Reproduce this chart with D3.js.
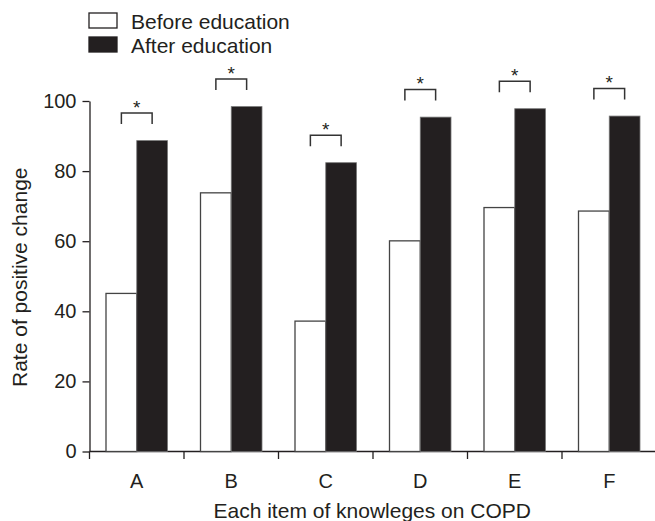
<!DOCTYPE html>
<html>
<head>
<meta charset="utf-8">
<script src="https://cdn.jsdelivr.net/npm/d3@7"></script>
<style>
  body { margin: 0; background: #fff; }
  text { font-family: "Liberation Sans", Arial, sans-serif; fill: #231f20; }
</style>
</head>
<body>
<div id="chart"></div>
<script>
// data
const items = ["A", "B", "C", "D", "E", "F"];
const before = [45.1, 73.8, 37.2, 60.1, 69.6, 68.6];
const after = [88.7, 98.4, 82.4, 95.4, 97.8, 95.7];
const yTicks = [0, 20, 40, 60, 80, 100];
const seriesNames = ["Before education", "After education"];

const W = 655, H = 521;
const ink = "#231f20";

const svg = d3.select("#chart")
  .append("svg")
    .attr("width", W)
    .attr("height", H);

const x = d3.scaleBand()
  .domain(items)
  .range([89.5, 656.5])
  .padding(0);

const x1 = d3.scaleBand()
  .domain(["before", "after"])
  .range([16.5, x.bandwidth() - 16.5])
  .padding(0);

const y = d3.scaleLinear()
  .domain([0, 100])
  .range([451.5, 101]);

// y axis
const yAxis = svg.append("g")
  .attr("transform", `translate(${x.range()[0]},0)`)
  .call(d3.axisLeft(y).tickValues(yTicks).tickSize(7).tickSizeOuter(0).tickPadding(6));
yAxis.selectAll("text")
  .style("font-size", "20px")
  .attr("fill", ink);
yAxis.selectAll("line, path").attr("stroke", ink).attr("stroke-width", 1.3);

// x axis: line, ticks on band edges, labels in band centres
const xAxis = svg.append("g")
  .attr("transform", `translate(0,${y(0)})`);
xAxis.append("line")
  .attr("x1", x.range()[0]).attr("x2", W)
  .attr("stroke", ink).attr("stroke-width", 1.3);
xAxis.selectAll(".edge")
  .data(items)
  .join("line")
    .attr("class", "edge")
    .attr("x1", d => x(d)).attr("x2", d => x(d))
    .attr("y1", 0).attr("y2", 7.5)
    .attr("stroke", ink).attr("stroke-width", 1.3);
xAxis.selectAll(".lab")
  .data(items)
  .join("text")
    .attr("class", "lab")
    .attr("x", d => x(d) + x.bandwidth() / 2)
    .attr("y", 36.5)
    .attr("text-anchor", "middle")
    .style("font-size", "20px")
    .text(d => d);

// bars
const groups = svg.append("g")
  .selectAll("g")
  .data(items.map((d, i) => ({ item: d, before: before[i], after: after[i] })))
  .join("g")
    .attr("transform", d => `translate(${x(d.item)},0)`);

groups.append("rect")
  .attr("x", x1("before"))
  .attr("y", d => y(d.before))
  .attr("width", x1.bandwidth())
  .attr("height", d => y(0) - y(d.before))
  .attr("fill", "#fff")
  .attr("stroke", "#444")
  .attr("stroke-width", 1.3);

groups.append("rect")
  .attr("x", x1("after"))
  .attr("y", d => y(d.after))
  .attr("width", x1.bandwidth())
  .attr("height", d => y(0) - y(d.after))
  .attr("fill", ink)
  .attr("stroke", "#777")
  .attr("stroke-width", 0.8);

// significance brackets
const bx0 = x1("before") + x1.bandwidth() / 2;
const bx1 = x1("after") + x1.bandwidth() / 2;
groups.append("path")
  .attr("d", d => {
    const top = y(d.after) - 27.5, bot = y(d.after) - 16.5;
    return `M${bx0},${bot}V${top}H${bx1}V${bot}`;
  })
  .attr("fill", "none")
  .attr("stroke", "#333")
  .attr("stroke-width", 1.5);

groups.append("text")
  .attr("x", (bx0 + bx1) / 2)
  .attr("y", d => y(d.after) - 27.5 + 0.5)
  .attr("text-anchor", "middle")
  .style("font-size", "19px")
  .text("*");

// axis titles
svg.append("text")
  .attr("x", (x.range()[0] + W) / 2)
  .attr("y", 518)
  .attr("text-anchor", "middle")
  .style("font-size", "21px")
  .text("Each item of knowleges on COPD");

svg.append("text")
  .attr("transform", `translate(27,${(y(0) + y(100)) / 2 + 1}) rotate(-90)`)
  .attr("text-anchor", "middle")
  .style("font-size", "21px")
  .text("Rate of positive change");

// legend
const legend = svg.append("g")
  .selectAll("g")
  .data(seriesNames)
  .join("g")
    .attr("transform", (d, i) => `translate(89,${13 + i * 24})`);

legend.append("rect")
  .attr("width", 28).attr("height", 15)
  .attr("fill", (d, i) => i === 0 ? "#fff" : ink)
  .attr("stroke", ink).attr("stroke-width", 1.3);

legend.append("text")
  .attr("x", 42)
  .attr("y", 16)
  .style("font-size", "21px")
  .text(d => d);
</script>
</body>
</html>
